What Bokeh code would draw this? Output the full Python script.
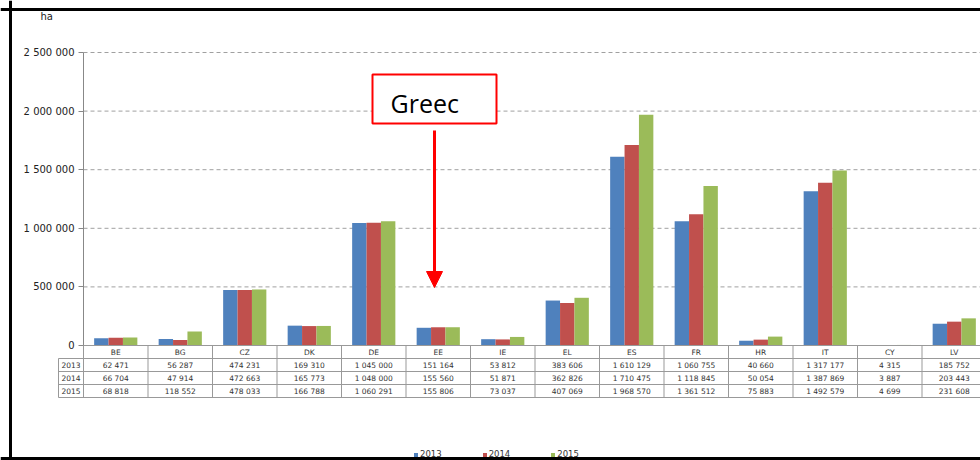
from bokeh.plotting import figure
from bokeh.models import (Range1d, LinearAxis, FixedTicker, Span, Arrow, NormalHead,
                          Legend, LegendItem, ColumnDataSource)
from bokeh.core.properties import value
from bokeh.embed import file_html
from bokeh.resources import INLINE

# ---------------- data ----------------
categories = ["BE", "BG", "CZ", "DK", "DE", "EE", "IE", "EL", "ES", "FR", "HR", "IT", "CY", "LV"]
years = ["2013", "2014", "2015"]
v2013 = [62471, 56287, 474231, 169310, 1045000, 151164, 53812, 383606, 1610129, 1060755, 40660, 1317177, 4315, 185752]
v2014 = [66704, 47914, 472663, 165773, 1048000, 155560, 51871, 362826, 1710475, 1118845, 50054, 1387869, 3887, 203443]
v2015 = [68818, 118552, 478033, 166788, 1060291, 155806, 73037, 407069, 1968570, 1361512, 75883, 1492579, 4699, 231608]
y_ticks = [0, 500000, 1000000, 1500000, 2000000, 2500000]
y_tick_labels = ["0", "500 000", "1 000 000", "1 500 000", "2 000 000", "2 500 000"]
unit_label = "ha"
note_text = "Greec"
colors = ["#4F81BD", "#C0504D", "#9BBB59"]
series = [v2013, v2014, v2015]

# ---------------- geometry ----------------
W, H = 980, 460
CW = 64.5            # px per category
AX_X = 83            # canvas x of the y axis
Y0 = 345             # canvas y of value 0
PPU = 293 / 2500000  # px per unit
X0 = -AX_X / CW
X1 = (W - AX_X) / CW
YT = Y0 / PPU
YB = (Y0 - H) / PPU


def cx(px):
    return X0 + px / CW


def cy(py):
    return (Y0 - py) / PPU


FONT = "DejaVu Sans"
p = figure(width=W, height=H, x_range=Range1d(X0, X1), y_range=Range1d(YB, YT),
           x_axis_location=None, y_axis_location=None, toolbar_location=None,
           output_backend="svg", min_border=0)
p.outline_line_color = None
p.xgrid.grid_line_color = None
p.ygrid.grid_line_color = None
p.background_fill_color = "white"
p.border_fill_color = "white"

# gridlines
grid_ticks = [t for t in y_ticks if t > 0]
p.segment(x0=[0] * len(grid_ticks), x1=[X1 + 1] * len(grid_ticks), y0=grid_ticks, y1=grid_ticks,
          line_color="#a0a0a0", line_width=1, line_dash="4 3")

# bars
BW = 14.4 / CW
renderers = []
n = len(categories)
for j, (yr, vals, col) in enumerate(zip(years, series, colors)):
    src = ColumnDataSource(dict(x=[i + 0.5 + (j - 1) * BW for i in range(n)], top=vals))
    r = p.vbar(x="x", top="top", bottom=0, width=BW, source=src, fill_color=col, line_color=None)
    renderers.append(r)

# y axis
yaxis = LinearAxis(fixed_location=0, bounds=(0, 2500000), ticker=FixedTicker(ticks=y_ticks),
                   major_label_overrides={float(t): l for t, l in zip(y_ticks, y_tick_labels)})
yaxis.axis_line_color = "#888888"
yaxis.major_tick_line_color = "#888888"
yaxis.major_tick_out = 5
yaxis.major_tick_in = 0
yaxis.minor_tick_line_color = None
yaxis.major_label_standoff = 4
yaxis.major_label_text_font = FONT
yaxis.major_label_text_font_size = "10px"
yaxis.major_label_text_color = "#222222"
p.add_layout(yaxis, "left")

# unit label
p.text(x=[cx(40)], y=[cy(16)], text=[unit_label], text_font=value(FONT), text_font_size="10px",
       text_color="#222222", text_align="left", text_baseline="middle")

# data table
row_lines = [358, 371, 384, 397]
line_col = "#999999"
hx0 = [cx(58)] * len(row_lines) + [0]
hy = [cy(v) for v in row_lines] + [0]
p.segment(x0=hx0, x1=[X1 + 1] * len(hx0), y0=hy, y1=hy, line_color=line_col, line_width=1)
vx = list(range(n + 1)) + [cx(58)]
vy0 = [0] * (n + 1) + [cy(358)]
p.segment(x0=vx, x1=vx, y0=vy0, y1=[cy(397)] * len(vx), line_color=line_col, line_width=1)

centers = [i + 0.5 for i in range(n)]
p.text(x=centers, y=[cy(351.5)] * n, text=categories, text_font=value(FONT), text_font_size="7.5px",
       text_color="#333333", text_align="center", text_baseline="middle")
row_centers = [364.5, 377.5, 390.5]
for yr, vals, rc in zip(years, series, row_centers):
    labels = [f"{v:,}".replace(",", " ") for v in vals]
    p.text(x=centers, y=[cy(rc)] * n, text=labels, text_font=value(FONT), text_font_size="7.5px",
           text_color="#333333", text_align="center", text_baseline="middle")
    p.text(x=[cx(70.5)], y=[cy(rc)], text=[yr], text_font=value(FONT), text_font_size="7.5px",
           text_color="#333333", text_align="center", text_baseline="middle")

# annotation box + arrow
p.quad(left=[cx(372)], right=[cx(496)], top=[cy(74)], bottom=[cy(123)],
       fill_color="white", line_color="#FF0000", line_width=2)
p.text(x=[cx(390)], y=[cy(102)], text=[note_text], text_font=value("Open Sans"), text_font_size="25px",
       text_color="black", text_align="left", text_baseline="middle")
arrow = Arrow(x_start=cx(434), y_start=cy(130), x_end=cx(434), y_end=cy(287),
              line_color="#FF0000", line_width=3,
              end=NormalHead(size=16, fill_color="#FF0000", line_color="#FF0000"))
p.add_layout(arrow)

# legend
legend = Legend(items=[LegendItem(label=yr, renderers=[r]) for yr, r in zip(years, renderers)],
                orientation="horizontal", location=(413, 1), glyph_width=5, glyph_height=5,
                label_height=8, label_text_font=FONT, label_text_font_size="8.5px",
                label_text_color="#333333", spacing=40, label_standoff=2, padding=0, margin=0,
                border_line_color=None, background_fill_alpha=0)
p.add_layout(legend, "center")

# frame border (left, top, bottom)
for loc, dim in [(cx(10), "height"), (cy(9), "width"), (cy(458), "width")]:
    p.add_layout(Span(location=loc, dimension=dim, line_color="black", line_width=3))

open("out.html", "w").write(file_html(p, INLINE))
